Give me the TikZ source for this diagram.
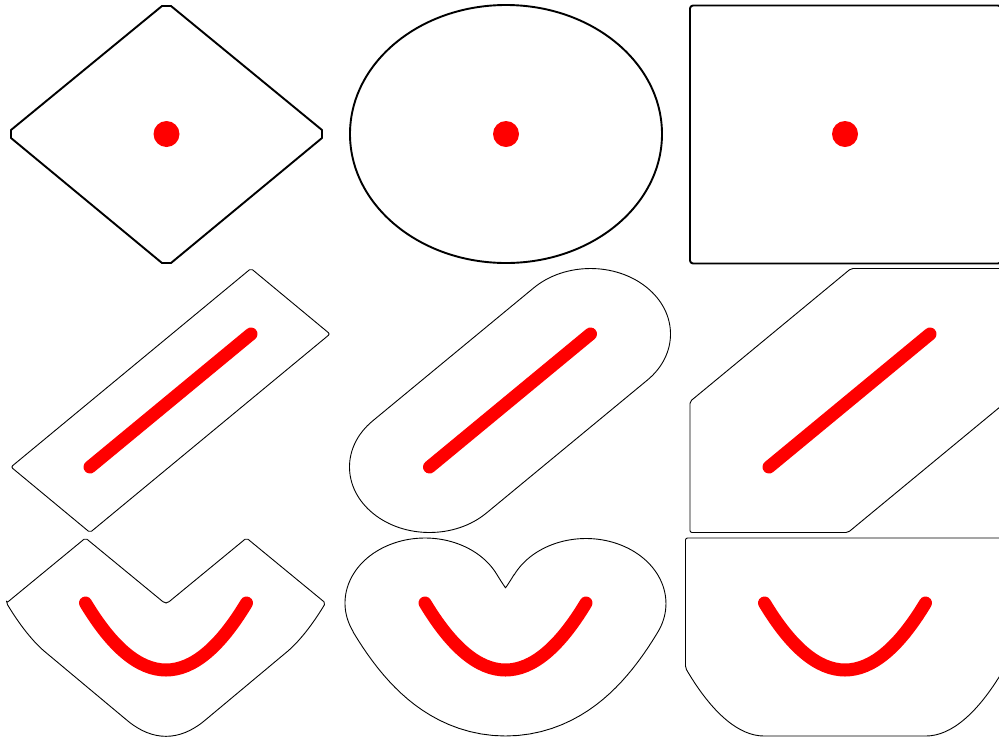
\documentclass[tikz,border=0pt]{standalone}
\tikzset{
  bigshape/.style={line width=1.9pt, line join=round},
  smallshape/.style={line width=0.9pt, line join=round},
  redline/.style={red, line width=13pt, line cap=round},
  declare function={
    cvx(\z)=80.5*(2*\z-1);
    cvy(\z)=268*\z*(1-\z);
    thu(\z)=atan2(-0.48811,1-2*\z);
    thl(\z)=atan2(0.48811,2*\z-1);
    upx(\z)=cvx(\z)+80*cos(thu(\z));
    upy(\z)=cvy(\z)+65*sin(thu(\z));
    lox(\z)=cvx(\z)+80*cos(thl(\z));
    loy(\z)=cvy(\z)+66*sin(thl(\z));
  }
}
\begin{document}
\begin{tikzpicture}[x=1pt,y=-1pt]
\useasboundingbox (0,0) rectangle (999,740);
\clip (0,0) rectangle (999,740);
\draw[bigshape] (162,6) -- (171,6) -- (322,130) -- (322,138) -- (171,263) -- (162,263) -- (11,138) -- (11,130) -- cycle;
\fill[red] (166.5,134) circle (13);
\draw[bigshape] (506,134) ellipse [x radius=156, y radius=129];
\fill[red] (506,134) circle (13);
\draw[bigshape, rounded corners=3pt] (690,5.5) rectangle (1001,263.5);
\fill[red] (845,134) circle (13);
\draw[smallshape, rounded corners=2pt] (11,467) -- (251,268.5) -- (330,334) -- (90,532.5) -- cycle;
\draw[redline] (90,467) -- (251,334);
\draw[smallshape] (486.33,513.11) -- (647.33,380.11)
  arc[start angle=44.74, end angle=-135.26, x radius=80, y radius=65.5]
  -- (372.67,420.89)
  arc[start angle=-135.26, end angle=-315.26, x radius=80, y radius=65.5] -- cycle;
\draw[redline] (429.5,467) -- (590.5,334);
\draw[smallshape, rounded corners=2pt] (690,532.5) -- (690,401.5) -- (851,268.5) -- (1009,268.5) -- (1009,399.5) -- (848,532.5) -- cycle;
\draw[redline] (769,467) -- (930,334);
\begin{scope}[shift={(166,603)}]
\draw[smallshape, rounded corners=2pt] (-159.5,0) -- (-80.5,-65) -- (-1.5,0) -- (1.5,0) -- (80.5,-65) -- (159.5,0)
  .. controls (145.93,22.59) and (132.37,39.46) .. (118.8,50.62) -- (39.8,116.62)
  .. controls (13.27,138.46) and (-13.27,138.46) .. (-39.8,116.62) -- (-118.8,50.62)
  .. controls (-132.37,39.46) and (-145.93,22.59) .. cycle;
\draw[redline] (-80.5,0) .. controls (-26.83,89.33) and (26.83,89.33) .. (80.5,0);
\end{scope}
\begin{scope}[shift={(505.5,603)}]
\draw[smallshape] plot[domain=0:0.067, samples=8] ({upx(0.067-\x)},{upy(0.067-\x)})
  arc[start angle=-26.02, end angle=-206.02, x radius=80, y radius=65]
  -- plot[domain=0:1, samples=41] ({lox(\x)},{loy(\x)})
  arc[start angle=26.02, end angle=-153.98, x radius=80, y radius=65]
  -- plot[domain=0:0.067, samples=8] ({upx(1-\x)},{upy(1-\x)}) -- cycle;
\draw[redline] (-80.5,0) .. controls (-26.83,89.33) and (26.83,89.33) .. (80.5,0);
\end{scope}
\begin{scope}[shift={(845,603)}]
\draw[smallshape, rounded corners=2pt] (-159.5,-65) -- (-159.5,65)
  .. controls (-132.67,110.67) and (-105.83,133) .. (-79,133) -- (79,133)
  .. controls (105.83,133) and (132.67,110.67) .. (159.5,65) -- (159.5,-65) -- cycle;
\draw[redline] (-80.5,0) .. controls (-26.83,89.33) and (26.83,89.33) .. (80.5,0);
\end{scope}
\end{tikzpicture}
\end{document}
